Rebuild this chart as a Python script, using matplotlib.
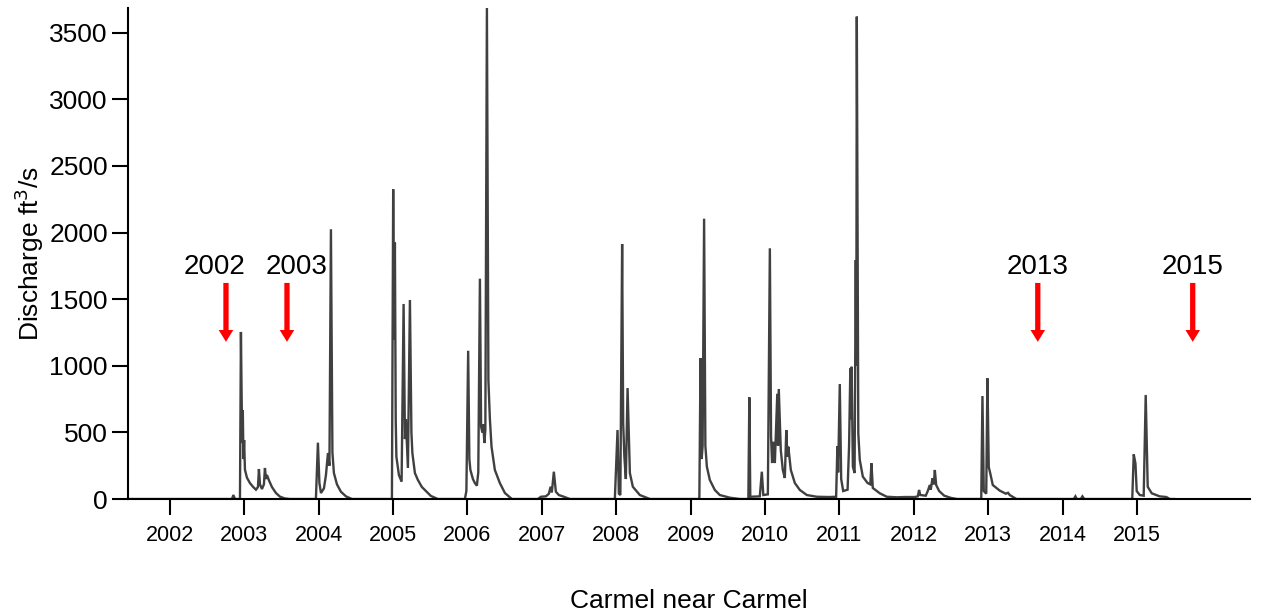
import matplotlib
matplotlib.use("Agg")
import matplotlib.pyplot as plt

# daily discharge (decimal year, ft3/s)
years = [
    2001.435, 2002.833, 2002.853, 2002.874, 2002.941,
    2002.954, 2002.964, 2002.972, 2002.979, 2002.988, 2002.997, 2003.008, 2003.035,
    2003.075, 2003.116, 2003.156, 2003.183, 2003.196, 2003.210, 2003.237, 2003.263,
    2003.277, 2003.290, 2003.304, 2003.331, 2003.371, 2003.425, 2003.478, 2003.546,
    2003.613,
    # 2004
    2003.962, 2003.989, 2004.009, 2004.030, 2004.070, 2004.097, 2004.124, 2004.144,
    2004.164, 2004.184, 2004.204, 2004.245, 2004.298, 2004.366, 2004.446,
    # 2005
    2004.984, 2005.001, 2005.013, 2005.024, 2005.035, 2005.044, 2005.078, 2005.114,
    2005.141, 2005.159, 2005.172, 2005.199, 2005.226, 2005.246, 2005.259, 2005.293,
    2005.333, 2005.387, 2005.427, 2005.508, 2005.602,
    # 2006
    2005.965, 2005.985, 2006.009, 2006.025, 2006.039, 2006.073, 2006.099, 2006.126,
    2006.145, 2006.167, 2006.183, 2006.200, 2006.213, 2006.227, 2006.240, 2006.261,
    2006.281, 2006.301, 2006.323, 2006.368, 2006.435, 2006.503, 2006.597,
    # 2007
    2006.946, 2006.987, 2007.054, 2007.094, 2007.117, 2007.134, 2007.161, 2007.188,
    2007.228, 2007.296, 2007.376,
    # 2008
    2007.981, 2008.017, 2008.035, 2008.055, 2008.079, 2008.093, 2008.109, 2008.129,
    2008.152, 2008.183, 2008.223, 2008.317, 2008.452,
    # 2009
    2009.117, 2009.133, 2009.148, 2009.161, 2009.181, 2009.198, 2009.218, 2009.258,
    2009.325, 2009.392, 2009.527, 2009.661,
    # 2010
    2009.776, 2009.789, 2009.802, 2009.930, 2009.957, 2009.977, 2010.038, 2010.065,
    2010.081, 2010.095, 2010.109, 2010.132, 2010.165, 2010.175, 2010.185, 2010.212,
    2010.239, 2010.266, 2010.286, 2010.300, 2010.313, 2010.347, 2010.401, 2010.468,
    2010.562, 2010.696, 2010.871,
    # 2011
    2010.956, 2010.973, 2010.983, 2011.005, 2011.024, 2011.051, 2011.110, 2011.130,
    2011.147, 2011.155, 2011.164, 2011.181, 2011.204, 2011.220, 2011.227, 2011.234,
    2011.254, 2011.274, 2011.315, 2011.379, 2011.415, 2011.431, 2011.449, 2011.543,
    2011.637, 2011.772,
    # 2012
    2011.879, 2012.013, 2012.054, 2012.071, 2012.087, 2012.161, 2012.188, 2012.215,
    2012.228, 2012.251, 2012.269, 2012.283, 2012.301, 2012.341, 2012.409, 2012.503,
    2012.583,
    # 2013
    2012.907, 2012.923, 2012.941, 2012.974, 2012.990, 2013.008, 2013.028, 2013.062,
    2013.156, 2013.237, 2013.267, 2013.290, 2013.380,
    # 2014
    2014.151, 2014.173, 2014.191, 2014.245, 2014.267, 2014.292,
    # 2015
    2014.937, 2014.957, 2014.980, 2014.997, 2015.038, 2015.091, 2015.118, 2015.145,
    2015.199, 2015.306, 2015.396, 2015.441, 2015.500,
]

discharge = [
    0, 0, 30, 0, 0,
    1254, 745, 420, 668, 300, 443, 220, 160,
    120, 92, 70, 90, 225, 110, 75, 110,
    233, 150, 180, 140, 90, 45, 18, 4,
    0,
    # 2004
    0, 423, 120, 45, 80, 180, 345, 250,
    2025, 350, 195, 110, 55, 20, 0,
    # 2005
    0, 2325, 1200, 1925, 600, 318, 180, 130,
    1464, 450, 600, 233, 1494, 500, 345, 195,
    143, 90, 68, 23, 0,
    # 2006
    0, 60, 1113, 300, 218, 150, 120, 100,
    200, 1654, 543, 500, 560, 420, 520, 3690,
    893, 600, 393, 218, 120, 45, 0,
    # 2007
    0, 17, 20, 40, 92, 50, 205, 55,
    30, 17, 0,
    # 2008
    0, 518, 40, 30, 1914, 570, 318, 150,
    833, 195, 92, 30, 0,
    # 2009
    0, 1058, 300, 400, 2104, 400, 243, 143,
    68, 30, 10, 0,
    # 2010
    0, 763, 17, 20, 205, 30, 35, 1882,
    468, 270, 430, 270, 790, 400, 826, 368,
    218, 158, 518, 318, 393, 218, 120, 68,
    30, 17, 15,
    # 2011
    17, 398, 200, 863, 150, 60, 70, 400,
    980, 600, 993, 243, 195, 1794, 1000, 3621,
    495, 293, 168, 120, 110, 268, 83, 43,
    17, 13,
    # 2012
    15, 15, 20, 68, 30, 25, 60, 105,
    70, 155, 110, 218, 105, 60, 25, 8,
    0,
    # 2013
    0, 773, 60, 40, 906, 240, 193, 105,
    63, 40, 47, 30, 0,
    # 2014
    0, 20, 0, 0, 20, 0,
    # 2015
    0, 335, 268, 60, 30, 25, 781, 92,
    43, 20, 15, 0, 0,
]

tick_years = list(range(2002, 2016))

# red arrows marking the sampled years
arrow_years = [2002.753, 2003.573, 2013.667, 2015.750]
arrow_text_x = [2002.605, 2003.707, 2013.667, 2015.750]
arrow_labels = ["2002", "2003", "2013", "2015"]

plt.rcParams["font.family"] = ["Liberation Sans", "DejaVu Sans"]

fig = plt.figure(figsize=(12.63, 6.12), dpi=100)
ax = fig.add_axes([0.1013, 0.1846, 0.8884, 0.8024])

ax.plot(years, discharge, color="#404040", lw=1.7, solid_joinstyle="miter")

for x, tx, lab in zip(arrow_years, arrow_text_x, arrow_labels):
    ax.annotate("", xy=(x, 1180), xytext=(x, 1622),
                arrowprops=dict(arrowstyle="simple,head_length=0.85,head_width=1.05,tail_width=0.38",
                                mutation_scale=10, color="#ff0000", lw=0,
                                shrinkA=0, shrinkB=0))
    ax.text(tx, 1740, lab, ha="center", va="center", fontsize=20, color="black")

ax.set_xlim(2001.435, 2016.52)
ax.set_ylim(0, 3686)
ax.set_xticks(tick_years)
ax.set_xticklabels([str(y) for y in tick_years])
ax.set_yticks(range(0, 3501, 500))

for side in ["top", "right"]:
    ax.spines[side].set_visible(False)
for side in ["left", "bottom"]:
    ax.spines[side].set_linewidth(1.5)

ax.tick_params(axis="y", direction="out", length=11.5, width=1.5, labelsize=19, pad=3)
ax.tick_params(axis="x", direction="out", length=11.5, width=1.5, labelsize=15.5, pad=7)

ax.set_ylabel("Discharge ft$^3$/s", fontsize=19, labelpad=2)
ax.set_xlabel("Carmel near Carmel", fontsize=19, labelpad=31)

fig.savefig("out.png", dpi=100)
